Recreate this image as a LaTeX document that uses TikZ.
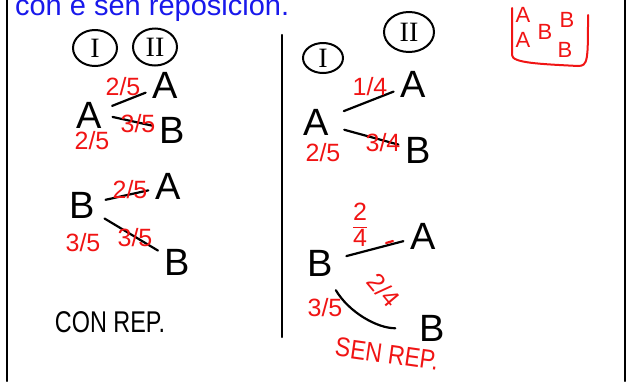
\documentclass[tikz,border=0pt]{standalone}
\usepackage{graphicx}
\usepackage{fontspec}
\setmainfont{Liberation Sans}
\newfontfamily\numfont{Liberation Serif}
\usetikzlibrary{shapes.geometric}
\definecolor{penred}{RGB}{240,20,20}
\definecolor{penblue}{RGB}{25,25,235}
\begin{document}
\begin{tikzpicture}[x=1pt,y=-1pt,line width=2.2pt,line cap=round,
	letter/.style={inner sep=1pt,font=\fontsize{38}{40}\selectfont},
	prob/.style={text=penred,inner sep=0pt,font=\fontsize{25}{27}\selectfont},
	stage/.style={draw,ellipse,line width=2pt,inner sep=0pt,font=\numfont\fontsize{28}{30}\selectfont},
	branch/.style={shorten <=9pt,shorten >=5pt}]
		\useasboundingbox (0,0) rectangle (626,381);
		\draw (7,0) -- (7,381); \draw (625,0) -- (625,381);
		\draw (282,35) -- (282,337);
		
		\node[anchor=base west,text=penblue,inner sep=0pt,font=\fontsize{29}{31}\selectfont] (title) at (14,15) {con e sen reposición.};
		
		\node[stage,minimum width=44pt,minimum height=36pt] (s1) at (95,48) {I};
		\node[stage,minimum width=44pt,minimum height=37pt] (s2) at (155,47) {II};
		
		\node[letter] (a) at (89,115) {A};
		\node[letter] (aa) at (165,85) {A}; \draw[branch] (a) -- (aa);
		\node[letter] (ab) at (172,130) {B}; \draw[branch] (a.east) -- (ab);
		\node[prob] (paa) at (123,87) {2/5};
		\node[prob] (pab) at (138,124) {3/5};
		\node[prob] (pa) at (92,141) {2/5};
		
		\node[letter] (b) at (82,205) {B};
		\node[letter] (ba) at (168,186) {A}; \draw[branch] (b) -- (ba);
		\node[letter] (bb) at (177,262) {B}; \draw[branch] (b) -- (bb);
		\node[prob] (pba) at (130,190) {2/5};
		\node[prob] (pbb) at (135,238) {3/5};
		\node[prob] (pb) at (83,243) {3/5};
		
		\node[font=\fontsize{30}{32}\selectfont] (con) at (110,322) {\scalebox{0.78}[1]{CON REP.}};
		
		\node[stage,minimum width=40pt,minimum height=30pt] (t1) at (323,58) {I};
		\node[stage,minimum width=50pt,minimum height=40pt] (t2) at (409,32) {II};
		
		\node[letter] (c) at (316,122) {A};
		\node[letter] (ca) at (413,84) {A}; \draw[branch,shorten <=14pt] (c) -- (ca);
		\node[letter] (cb) at (418,150) {B}; \draw[branch,shorten <=14pt] (c) -- (cb);
		\node[prob] (pca) at (370,87) {1/4};
		\node[prob] (pcb) at (383,143) {3/4};
		\node[prob] (pc) at (323,153) {2/5};
		
		\node[letter] (d) at (320,263) {B};
		\node[letter] (da) at (423,236) {A}; \draw[branch,shorten <=12pt] (d) -- (da);
		\node[letter] (db) at (432,328) {B}; \draw[shorten <=14pt,shorten >=22pt,bend right=30] (d) to (db);
		\node[prob] (pda) at (360,228) {\begin{tabular}{@{}c@{}}2\\[-2pt]\hline 4\end{tabular}};
		\draw[penred] (386,243) -- (393,241);
		\node[prob,rotate=-50] (pdb) at (384,290) {2/4};
		\node[prob] (pd) at (325,308) {3/5};
		\node[prob,rotate=-8,font=\fontsize{27}{29}\selectfont] (sen) at (387,354) {\scalebox{0.85}[1]{SEN REP.}};
		
		\draw[penred,line width=2pt] (512,8) -- (512,55) .. controls (512,63) and (540,64) .. (578,66) .. controls (588,66) and (588,60) .. (588,15);
		\node[prob,font=\fontsize{22}{24}\selectfont] (k1) at (523,15) {A}; \node[prob,font=\fontsize{22}{24}\selectfont] (k2) at (523,40) {A};
		\node[prob,font=\fontsize{22}{24}\selectfont] (k3) at (545,32) {B};
		\node[prob,font=\fontsize{22}{24}\selectfont] (k4) at (567,20) {B}; \node[prob,font=\fontsize{22}{24}\selectfont] (k5) at (565,50) {B};
		
		\end{tikzpicture}
\end{document}
